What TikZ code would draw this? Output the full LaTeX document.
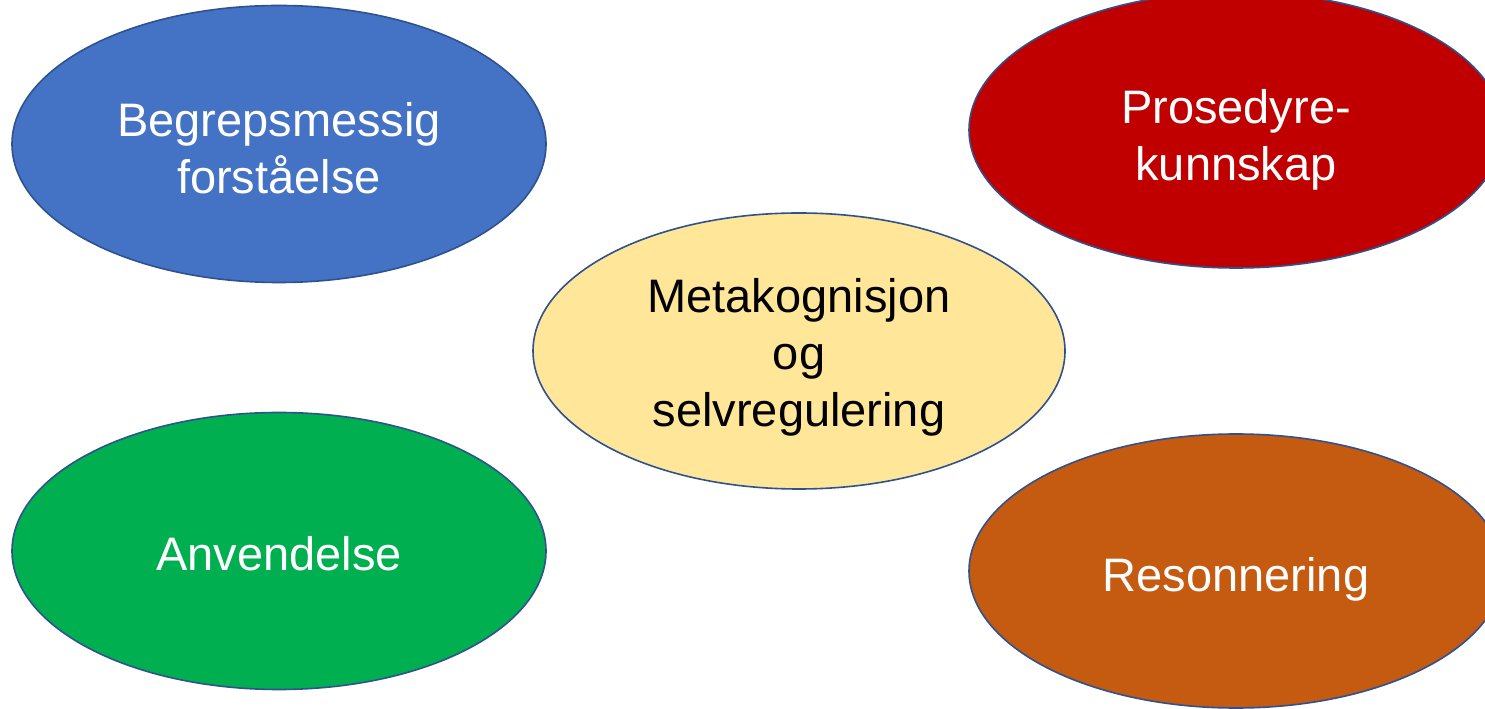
\documentclass[tikz,border=0pt]{standalone}
\usepackage{fontspec}
\setmainfont{Liberation Sans}
\usetikzlibrary{shapes.geometric}
\definecolor{cblue}{HTML}{4472C4}
\definecolor{cred}{HTML}{C00000}
\definecolor{cyellow}{HTML}{FFE699}
\definecolor{cgreen}{HTML}{00B050}
\definecolor{corange}{HTML}{C55A11}
\definecolor{cborder}{HTML}{2F528F}
\tikzset{
  ell/.style={ellipse, draw=cborder, line width=1.6pt, inner sep=0pt,
    minimum width=534pt, minimum height=277pt},
  txt/.style={align=center, inner sep=0pt,
    font=\fontsize{47}{57}\selectfont, text=white},
}
\begin{document}
\begin{tikzpicture}[x=1pt,y=1pt]
\useasboundingbox (0,0) rectangle (1485,709);
\clip (0,0) rectangle (1485,709);
\fill[white] (0,0) rectangle (1485,709);
\node[ell, fill=cblue] (begrep) at (279,565) {};
\node[ell, fill=cred, minimum height=276pt] (prosedyre) at (1236,579) {};
\node[ell, fill=cyellow, minimum width=532pt, minimum height=276pt] (meta) at (799,358) {};
\node[ell, fill=cgreen] (anvend) at (279,158) {};
\node[ell, fill=corange, minimum height=274pt] (reson) at (1236,138) {};
\node[txt] (tbegrep) at ([yshift=-4pt]begrep.center) {Begrepsmessig\\forståelse};
\node[txt] (tprosedyre) at ([yshift=-10pt]prosedyre.center) {Prosedyre-\\kunnskap};
\node[txt, text=black] (tmeta) at ([yshift=-6pt]meta.center) {Metakognisjon\\og\\selvregulering};
\node[txt] (tanvend) at ([yshift=-3pt]anvend.center) {Anvendelse};
\node[txt] (treson) at ([yshift=-8pt]reson.center) {Resonnering};
\end{tikzpicture}
\end{document}
